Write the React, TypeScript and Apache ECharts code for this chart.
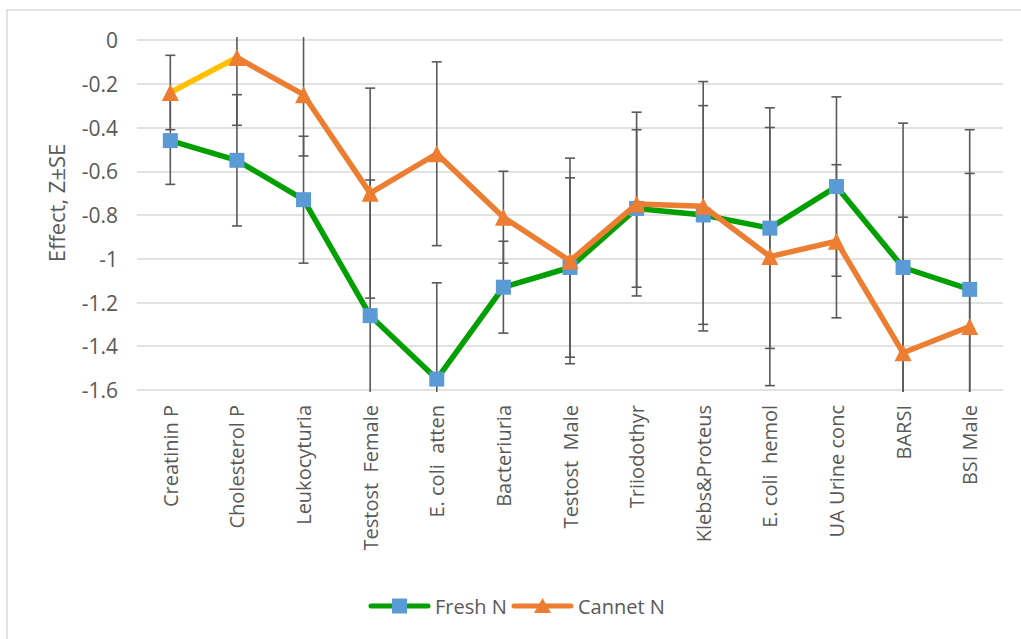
import React, { useEffect, useRef } from "react";
import * as echarts from "echarts";

// Categories along the x axis
const categories = [
  "Creatinin P",
  "Cholesterol P",
  "Leukocyturia",
  "Testost  Female",
  "E. coli  atten",
  "Bacteriuria",
  "Testost  Male",
  "Triiodothyr",
  "Klebs&Proteus",
  "E. coli  hemol",
  "UA Urine conc",
  "BARSI",
  "BSI Male",
];

// Series names
const seriesNames = ["Fresh N", "Cannet N"];

// Mean effect (Z) per category
const freshValues = [-0.46, -0.55, -0.73, -1.26, -1.55, -1.13, -1.04, -0.77, -0.8, -0.86, -0.67, -1.04, -1.14];
const cannetValues = [-0.24, -0.08, -0.25, -0.7, -0.52, -0.81, -1.01, -0.75, -0.76, -0.99, -0.92, -1.43, -1.31];

// Standard errors per category
const freshSE = [0.2, 0.3, 0.29, 0.62, 0.44, 0.21, 0.41, 0.36, 0.5, 0.55, 0.41, 0.66, 0.73];
const cannetSE = [0.17, 0.31, 0.28, 0.48, 0.42, 0.21, 0.47, 0.42, 0.57, 0.59, 0.35, 0.62, 0.7];

// Y axis ticks
const yMin = -1.6;
const yMax = 0;
const yStep = 0.2;

const FONT = "'Open Sans', 'Noto Sans', sans-serif";
const TEXT = "#595959";
const GREEN = "#00A000";
const BLUE = "#5B9BD5";
const ORANGE = "#ED7D31";
const GOLD = "#FFC000";
const BAR = "#595959";

function errorBarSeries(values: number[], se: number[]) {
  return {
    type: "custom",
    z: 1,
    silent: true,
    data: values.map((v, i) => [i, v, se[i]]),
    renderItem: (params: any, api: any) => {
      const i = api.value(0);
      const v = api.value(1);
      const e = api.value(2);
      const cs = params.coordSys;
      const top = api.coord([i, v + e]);
      const bot = api.coord([i, v - e]);
      const x = top[0];
      const minY = cs.y - 3;
      const maxY = cs.y + cs.height + 2;
      const y1 = Math.max(top[1], minY);
      const y2 = Math.min(bot[1], maxY);
      const half = 5;
      const style = { stroke: BAR, lineWidth: 1.6 };
      const children: any[] = [{ type: "line", shape: { x1: x, y1, x2: x, y2 }, style }];
      if (top[1] >= minY) {
        children.push({ type: "line", shape: { x1: x - half, y1: top[1], x2: x + half, y2: top[1] }, style });
      }
      if (bot[1] <= maxY) {
        children.push({ type: "line", shape: { x1: x - half, y1: bot[1], x2: x + half, y2: bot[1] }, style });
      }
      return { type: "group", children };
    },
  };
}

// Legend entry: thick line with a marker in its middle, followed by the name
function legendEntry(x: number, y: number, lineColor: string, marker: any, label: string) {
  return {
    type: "group",
    x,
    y,
    silent: true,
    children: [
      {
        type: "line",
        shape: { x1: 0, y1: 0, x2: 57, y2: 0 },
        style: { stroke: lineColor, lineWidth: 5, lineCap: "round" },
      },
      marker,
      {
        type: "text",
        x: 64,
        y: 0,
        style: {
          text: label,
          fill: TEXT,
          font: `20px ${FONT}`,
          textVerticalAlign: "middle",
          verticalAlign: "middle",
        },
      },
    ],
  };
}

export default function App() {
  const ref = useRef<HTMLDivElement>(null);

  useEffect(() => {
    if (!ref.current) return;
    const chart = echarts.init(ref.current, undefined, { renderer: "svg" });
    const firstSeg = 1 / (categories.length - 1);

    chart.setOption({
      animation: false,
      backgroundColor: "#ffffff",
      textStyle: { fontFamily: FONT },
      graphic: [
        {
          type: "rect",
          shape: { x: 7, y: 10, width: 1030, height: 650 },
          style: { fill: "none", stroke: "#D9D9D9", lineWidth: 1.5 },
          silent: true,
          z: -1,
        },
        legendEntry(
          371,
          606,
          GREEN,
          { type: "rect", shape: { x: 21, y: -7.5, width: 15, height: 15 }, style: { fill: BLUE } },
          seriesNames[0]
        ),
        legendEntry(
          514,
          606,
          ORANGE,
          {
            type: "polygon",
            shape: { points: [[28.5, -8], [37, 7], [20, 7]] },
            style: { fill: ORANGE },
          },
          seriesNames[1]
        ),
      ],
      grid: { left: 137, right: 18, top: 40, bottom: 249, containLabel: false },
      legend: { show: false },
      xAxis: {
        type: "category",
        data: categories,
        boundaryGap: true,
        axisLine: { show: false },
        axisTick: { show: false },
        axisLabel: {
          rotate: 90,
          margin: 15,
          interval: 0,
          fontFamily: FONT,
          fontSize: 20,
          color: TEXT,
        },
        splitLine: { show: false },
      },
      yAxis: {
        type: "value",
        min: yMin,
        max: yMax,
        interval: yStep,
        name: "Effect, Z±SE",
        nameLocation: "middle",
        nameRotate: 90,
        nameGap: 70,
        nameTextStyle: { fontFamily: FONT, fontSize: 22, color: TEXT, padding: [0, 0, 0, 24] },
        axisLine: { show: false },
        axisTick: { show: false },
        axisLabel: {
          margin: 19,
          fontFamily: FONT,
          fontSize: 21,
          color: TEXT,
          formatter: (v: number) => String(Math.round(v * 10) / 10),
        },
        splitLine: { lineStyle: { color: "#D9D9D9", width: 1.5 } },
      },
      series: [
        errorBarSeries(freshValues, freshSE),
        errorBarSeries(cannetValues, cannetSE),
        {
          name: seriesNames[0],
          type: "line",
          data: freshValues,
          z: 3,
          symbol: "rect",
          symbolSize: 15,
          color: GREEN,
          lineStyle: { color: GREEN, width: 5.5 },
          itemStyle: { color: BLUE },
        },
        {
          name: seriesNames[1],
          type: "line",
          data: cannetValues,
          z: 4,
          symbol: "triangle",
          symbolSize: 17,
          color: ORANGE,
          lineStyle: {
            width: 5.5,
            color: new echarts.graphic.LinearGradient(0, 0, 1, 0, [
              { offset: 0, color: GOLD },
              { offset: firstSeg, color: GOLD },
              { offset: firstSeg, color: ORANGE },
              { offset: 1, color: ORANGE },
            ]),
          },
          itemStyle: { color: ORANGE },
        },
      ],
    });

    return () => chart.dispose();
  }, []);

  return (
    <div
      ref={ref}
      style={{ position: "absolute", left: 0, top: 0, width: 1021, height: 639 }}
    />
  );
}
